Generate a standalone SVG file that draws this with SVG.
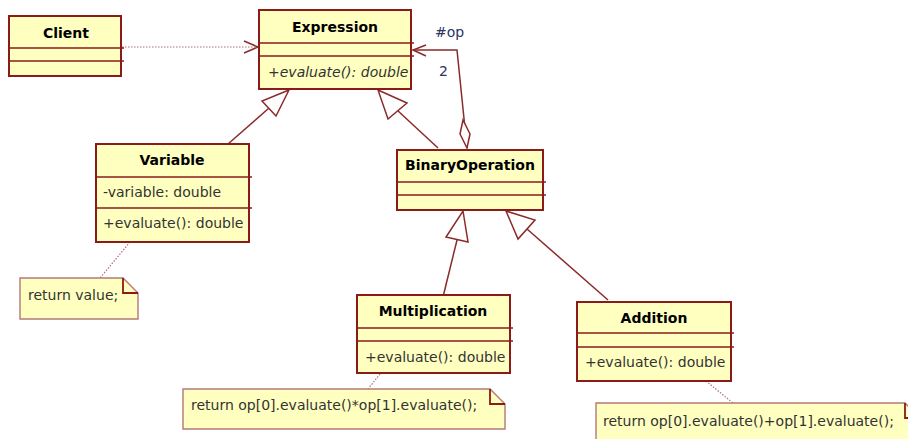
<svg xmlns="http://www.w3.org/2000/svg" width="908" height="439" viewBox="0 0 908 439">
<defs>
<style>
.box{fill:#ffffc0;stroke:#8b1a1a;stroke-width:2}
.div{stroke:#8b1a1a;stroke-width:1.6}
.title{font-family:"DejaVu Sans",Verdana,sans-serif;font-size:14px;font-weight:bold;fill:#000;text-anchor:middle}
.attr{font-family:"DejaVu Sans",Verdana,sans-serif;font-size:14px;fill:#333}
.ital{font-style:italic}
.note{fill:#ffffc0;stroke:#b57878;stroke-width:1.4}
.fold{fill:none;stroke:#8b1a1a;stroke-width:1.8}
.conn{fill:none;stroke:#8b2a2a;stroke-width:1.5}
.dot{fill:none;stroke:#b07070;stroke-width:1.2;stroke-dasharray:1.5,1.5}
.gen{fill:#fff;stroke:#8b2a2a;stroke-width:1.5}
.lbl{font-family:"DejaVu Sans",Verdana,sans-serif;font-size:14px;fill:#2a3560}
</style>
</defs>
<g id="connectors">
<path class="dot" d="M122 47 H257"/>
<path class="conn" d="M244 41 L258 47 L244 53"/>
<path class="conn" d="M228 144 L269 108"/>
<polygon class="gen" points="289,90 276,116 262,101"/>
<path class="conn" d="M438 148 L397 110"/>
<polygon class="gen" points="378,90 407,103 388,119"/>
<path class="conn" d="M467 148 L457 50 H413"/>
<path class="conn" d="M426 45 L413 50 L426 56"/>
<polygon points="463,120 470,134 467,148 460,134" fill="#fff" stroke="#8b2a2a" stroke-width="1.5"/>
<path class="conn" d="M443 297 L457 240"/>
<polygon class="gen" points="463,211 468,242 446,237"/>
<path class="conn" d="M608 300 L527 229"/>
<polygon class="gen" points="506,211 535,220 518,239"/>
<path class="dot" d="M130 242 L100 278"/>
<path class="dot" d="M380 374 L368 389"/>
<path class="dot" d="M706 381 L733 403"/>
<text class="lbl" x="435" y="37">#op</text>
<text class="lbl" x="439" y="76">2</text>
</g>
<g id="client">
<rect class="box" x="9" y="16" width="112" height="60"/>
<line class="div" x1="9" y1="48" x2="124" y2="48"/>
<line class="div" x1="9" y1="61" x2="124" y2="61"/>
<text class="title" x="66" y="38">Client</text>
</g>
<g id="expression">
<rect class="box" x="259" y="10" width="152" height="79"/>
<line class="div" x1="259" y1="43" x2="414" y2="43"/>
<line class="div" x1="259" y1="56" x2="414" y2="56"/>
<text class="title" x="335" y="32">Expression</text>
<text class="attr ital" x="268" y="77">+evaluate(): double</text>
</g>
<g id="variable">
<rect class="box" x="96" y="144" width="153" height="98"/>
<line class="div" x1="96" y1="177" x2="252" y2="177"/>
<line class="div" x1="96" y1="208" x2="252" y2="208"/>
<text class="title" x="172" y="165">Variable</text>
<text class="attr" x="103" y="197">-variable: double</text>
<text class="attr" x="103" y="228">+evaluate(): double</text>
</g>
<g id="binaryoperation">
<rect class="box" x="397" y="150" width="146" height="60"/>
<line class="div" x1="397" y1="182" x2="546" y2="182"/>
<line class="div" x1="397" y1="195" x2="546" y2="195"/>
<text class="title" x="470" y="170">BinaryOperation</text>
</g>
<g id="multiplication">
<rect class="box" x="357" y="295" width="153" height="78"/>
<line class="div" x1="357" y1="328" x2="513" y2="328"/>
<line class="div" x1="357" y1="341" x2="513" y2="341"/>
<text class="title" x="433" y="316">Multiplication</text>
<text class="attr" x="365" y="362">+evaluate(): double</text>
</g>
<g id="addition">
<rect class="box" x="577" y="302" width="154" height="79"/>
<line class="div" x1="577" y1="333" x2="734" y2="333"/>
<line class="div" x1="577" y1="347" x2="734" y2="347"/>
<text class="title" x="654" y="323">Addition</text>
<text class="attr" x="585" y="367">+evaluate(): double</text>
</g>
<g id="note-variable">
<path class="note" d="M20 278 H123 L138 293 V319 H20 Z"/>
<path class="fold" d="M123 278 V293 H138"/>
<text class="attr" x="28" y="300">return value;</text>
</g>
<g id="note-multiplication">
<path class="note" d="M183 389 H490 L505 404 V429 H183 Z"/>
<path class="fold" d="M490 389 V404 H505"/>
<text class="attr" x="191" y="410">return op[0].evaluate()*op[1].evaluate();</text>
</g>
<g id="note-addition">
<path class="note" d="M596 403 H905 L920 418 V446 H596 Z"/>
<path class="fold" d="M905 403 V418 H920"/>
<text class="attr" x="603" y="426">return op[0].evaluate()+op[1].evaluate();</text>
</g>
</svg>
